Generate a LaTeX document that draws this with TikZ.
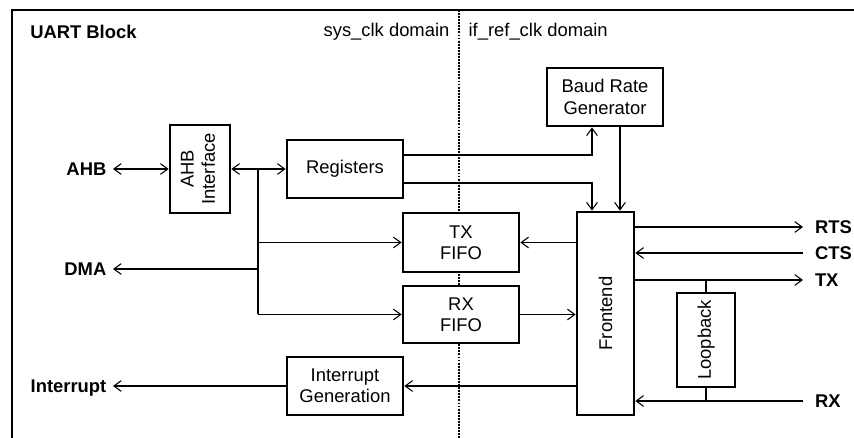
\documentclass[tikz,border=0pt]{standalone}
\usepackage{graphicx}
\usepackage{fontspec}
\setmainfont{Liberation Sans}
\usetikzlibrary{arrows.meta, calc}
\tikzset{
    block/.style={draw, line width=2pt, fill=white, align=center, inner sep=0pt},
    blksize/.style n args={2}{minimum width=#1*0.75pt, minimum height=#2*0.75pt},
    sig/.style={line width=0.8pt},
    portl/.style={font=\fontsize{13.8}{16}\selectfont\bfseries, anchor=east,
        inner sep=0pt, outer sep=5pt, text depth=0pt},
    portr/.style={portl, anchor=west, outer sep=9pt}
}

\begin{document}
\begin{tikzpicture}[x=0.75pt, y=-0.75pt,
    font=\fontsize{13.8}{16}\selectfont,
    >={Straight Barb[length=5.5pt,width=8pt]}]
        \useasboundingbox (0,0) rectangle (854,438);

        % Frame and clock domain border
        \draw[line width=2.2pt] (12,438) -- (12,10) -- (854,10);
        \draw[line width=1.8pt, dash pattern=on 1.4pt off 0.9pt] (459,10) -- (459,438);

        \node[anchor=west, inner sep=0pt, font=\fontsize{13.8}{16}\selectfont\bfseries] (title) at (30,32) {UART Block};
        \node[anchor=east, inner sep=7pt] (sysdom) at (459,32) {sys\_clk domain};
        \node[anchor=west, inner sep=7pt] (refdom) at (459,32) {if\_ref\_clk domain};

        % Blocks
        \node[block, blksize={60}{88}] (ahbif) at (200,169) {\rotatebox{90}{\begin{tabular}{@{}c@{}}AHB\\Interface\end{tabular}}};
        \node[block, blksize={116}{58}] (regs) at (345,169) {Registers};
        \node[block, blksize={116}{59}] (txf) at (461,242.5) {TX\\FIFO};
        \node[block, blksize={116}{57}] (rxf) at (461,314.5) {RX\\FIFO};
        \node[block, blksize={116}{58}] (irq) at (345,386) {Interrupt\\Generation};
        \node[block, blksize={116}{58}] (brg) at (605,97) {Baud Rate\\Generator};
        \node[block, blksize={57}{203}] (fe) at (605.5,313.5) {\rotatebox{90}{Frontend}};
        \node[block, blksize={58}{94}] (lb) at (706,340) {\rotatebox{90}{Loopback}};

        % Ports
        \node[portl] (ahb)  at (113,169) {AHB};
        \node[portl] (dma)  at (113,269) {DMA};
        \node[portl] (intr) at (113,386) {Interrupt};
        \node[portr] (rts)  at (803,227) {RTS};
        \node[portr] (cts)  at (803,253) {CTS};
        \node[portr] (tx)   at (803,280) {TX};
        \node[portr] (rx)   at (803,401) {RX};

        % Bus side
        \coordinate (jtop) at (258,169);
        \draw[sig,<->] (ahb.east) -- (ahbif.west);
        \draw[sig,<->] (ahbif.east) -- (regs.west);
        \draw[sig] (jtop) -- (jtop |- rxf.west);
        \draw[sig,->] (jtop |- txf.west) -- (txf.west);
        \draw[sig,->] (jtop |- rxf.west) -- (rxf.west);
        \draw[sig,->] (jtop |- dma.east) -- (dma.east);

        % Registers, baud rate and frontend
        \draw[sig,->] ($(regs.east)+(0,-14)$) -| ($(brg.south)+(-13,0)$);
        \draw[sig,->] ($(regs.east)+(0,14)$) -| ($(fe.north)+(-13.5,0)$);
        \draw[sig,->] ($(brg.south)+(15,0)$) coordinate (bclk) -- (bclk |- fe.north);

        \draw[sig,->] (fe.west |- txf.east) -- (txf.east);
        \draw[sig,->] (rxf.east) -- (fe.west |- rxf.east);
        \draw[sig,->] (fe.west |- irq.east) -- (irq.east);
        \draw[sig,->] (irq.west) -- (intr.east);

        % Line side
        \draw[sig,->] (fe.east |- rts.west) -- (rts.west);
        \draw[sig,->] (cts.west) -- (fe.east |- cts.west);
        \draw[sig,->] (fe.east |- tx.west) -- (tx.west);
        \draw[sig,->] (rx.west) -- (fe.east |- rx.west);
        \draw[sig] (lb.north) -- (lb.north |- tx.west);
        \draw[sig] (lb.south) -- (lb.south |- rx.west);
\end{tikzpicture}
\end{document}
